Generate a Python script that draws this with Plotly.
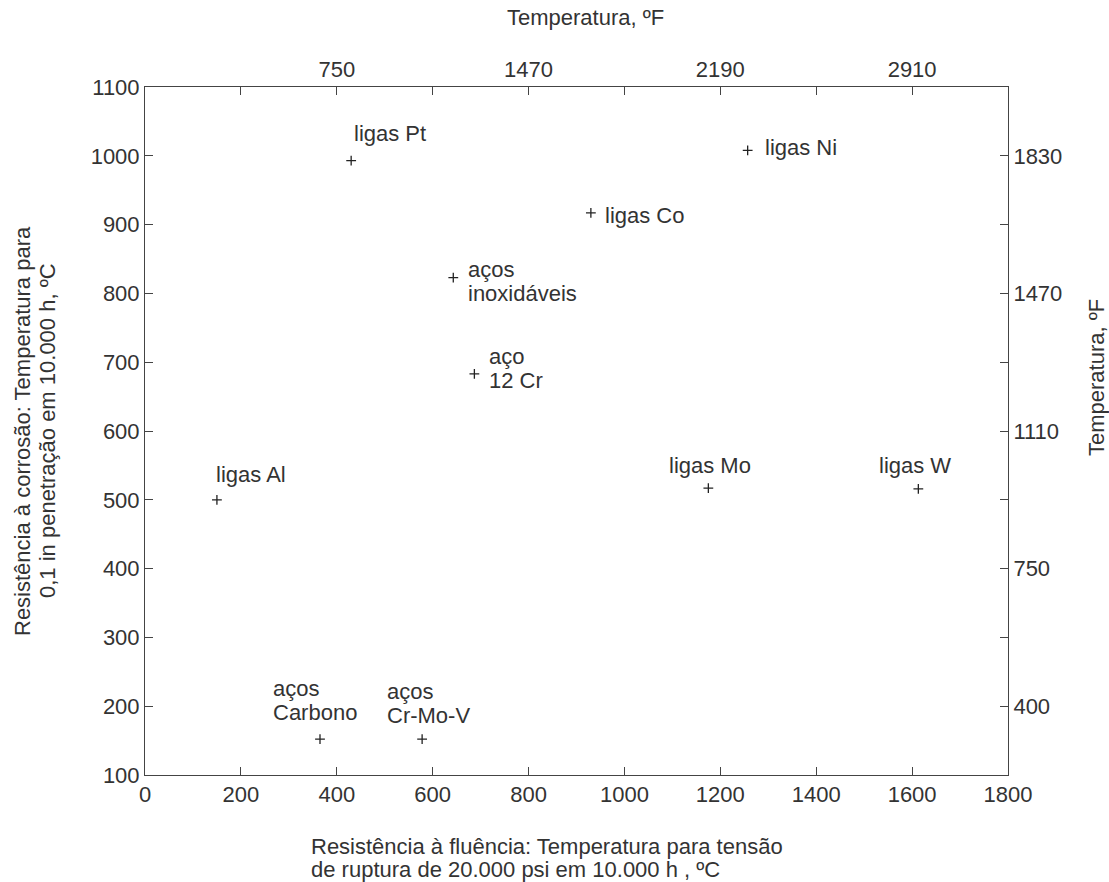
import plotly.graph_objects as go

# ---- data ----
materials = ["ligas Pt", "ligas Ni", "ligas Co", "aços<br>inoxidáveis", "aço<br>12 Cr",
             "ligas Al", "ligas Mo", "ligas W", "aços<br>Carbono", "aços<br>Cr-Mo-V"]
creep_c = [430, 1257, 930, 643, 687, 150, 1175, 1613, 365, 578]
corrosion_c = [993, 1008, 917, 823, 683, 500, 517, 516, 152, 152]

bottom_ticks_c = [0, 200, 400, 600, 800, 1000, 1200, 1400, 1600, 1800]
left_ticks_c = [100, 200, 300, 400, 500, 600, 700, 800, 900, 1000, 1100]
top_ticks_c = [200, 400, 600, 800, 1000, 1200, 1400, 1600]
top_ticks_f = ["", "750", "", "1470", "", "2190", "", "2910"]
right_ticks_c = [200, 300, 400, 500, 600, 700, 800, 900, 1000]
right_ticks_f = ["400", "", "750", "", "1110", "", "1470", "", "1830"]

x_title = ["Resistência à fluência: Temperatura para tensão",
           "de ruptura de 20.000 psi em 10.000 h , ºC"]
y_title = ["Resistência à corrosão: Temperatura para",
           "0,1 in penetração em 10.000 h, ºC"]
f_title = "Temperatura, ºF"

# ---- label placement (style) ----
label_style = {
    "ligas Pt": dict(xanchor="left", xshift=1, yshift=27),
    "ligas Ni": dict(xanchor="left", xshift=15, yshift=3),
    "ligas Co": dict(xanchor="left", xshift=12, yshift=-3),
    "aços<br>inoxidáveis": dict(xanchor="left", xshift=13, yshift=-4),
    "aço<br>12 Cr": dict(xanchor="left", xshift=13, yshift=5),
    "ligas Al": dict(xanchor="left", xshift=-3, yshift=25),
    "ligas Mo": dict(xanchor="center", xshift=2, yshift=23),
    "ligas W": dict(xanchor="center", xshift=-3, yshift=23),
    "aços<br>Carbono": dict(xanchor="left", xshift=-49, yshift=39),
    "aços<br>Cr-Mo-V": dict(xanchor="left", xshift=-37, yshift=36),
}
LS = 24  # line spacing in px

FONT = "Liberation Sans, Arial, sans-serif"
TXT = "#333333"
AX = "#444444"
FS = 22

fig = go.Figure()
fig.add_trace(go.Scatter(
    x=creep_c, y=corrosion_c, mode="markers",
    marker=dict(symbol="cross-thin", size=7, line=dict(width=1.3, color="#222222")),
    showlegend=False, hoverinfo="skip"))
# invisible trace to activate secondary axes
fig.add_trace(go.Scatter(x=[bottom_ticks_c[0]], y=[left_ticks_c[0]], xaxis="x2", yaxis="y2",
                         mode="markers", marker=dict(opacity=0), showlegend=False, hoverinfo="skip"))

common = dict(showgrid=False, zeroline=False, showline=True, linecolor=AX, linewidth=1,
              ticks="inside", ticklen=8, tickwidth=1, tickcolor=AX,
              tickfont=dict(family=FONT, size=FS, color=TXT))

fig.update_layout(
    width=1109, height=882,
    margin=dict(l=145, r=101, t=87, b=107),
    paper_bgcolor="white", plot_bgcolor="white",
    font=dict(family=FONT, size=FS, color=TXT),
    xaxis=dict(range=[0, 1800], tickvals=bottom_ticks_c, **common),
    yaxis=dict(range=[100, 1100], tickvals=left_ticks_c, **common),
    xaxis2=dict(range=[0, 1800], overlaying="x", side="top", tickvals=top_ticks_c,
                ticktext=top_ticks_f, **common),
    yaxis2=dict(range=[100, 1100], overlaying="y", side="right", tickvals=right_ticks_c,
                ticktext=right_ticks_f, **common),
)

for name, xv, yv in zip(materials, creep_c, corrosion_c):
    st = label_style[name]
    lines = name.split("<br>")
    n = len(lines)
    for i, line in enumerate(lines):
        ys = st["yshift"] + (n - 1) / 2 * LS - i * LS
        fig.add_annotation(x=xv, y=yv, xref="x", yref="y", text=line, showarrow=False,
                           xanchor=st["xanchor"], yanchor="middle",
                           xshift=st["xshift"], yshift=ys,
                           font=dict(family=FONT, size=FS, color=TXT))

# axis titles
L, R, T, B = 145, 1008, 87, 775
def px(xp):
    return (xp - L) / (R - L)
def py(yp):
    return (B - yp) / (B - T)

fig.add_annotation(x=px(585), y=py(18), xref="paper", yref="paper", text=f_title,
                   showarrow=False, xanchor="center", yanchor="middle",
                   font=dict(family=FONT, size=FS, color=TXT))
fig.add_annotation(x=px(1096), y=py(378), xref="paper", yref="paper", text=f_title,
                   showarrow=False, textangle=-90, xanchor="center", yanchor="middle",
                   font=dict(family=FONT, size=FS, color=TXT))
for i, line in enumerate(y_title):
    fig.add_annotation(x=px(22 + 25 * i), y=py(431), xref="paper", yref="paper",
                       text=line, showarrow=False, textangle=-90,
                       xanchor="center", yanchor="middle",
                       font=dict(family=FONT, size=FS, color=TXT))
for i, line in enumerate(x_title):
    fig.add_annotation(x=px(309), y=py(846 + 23 * i), xref="paper", yref="paper",
                       text=line, showarrow=False, xanchor="left", yanchor="middle",
                       font=dict(family=FONT, size=FS, color=TXT))

fig.write_html("out.html")
